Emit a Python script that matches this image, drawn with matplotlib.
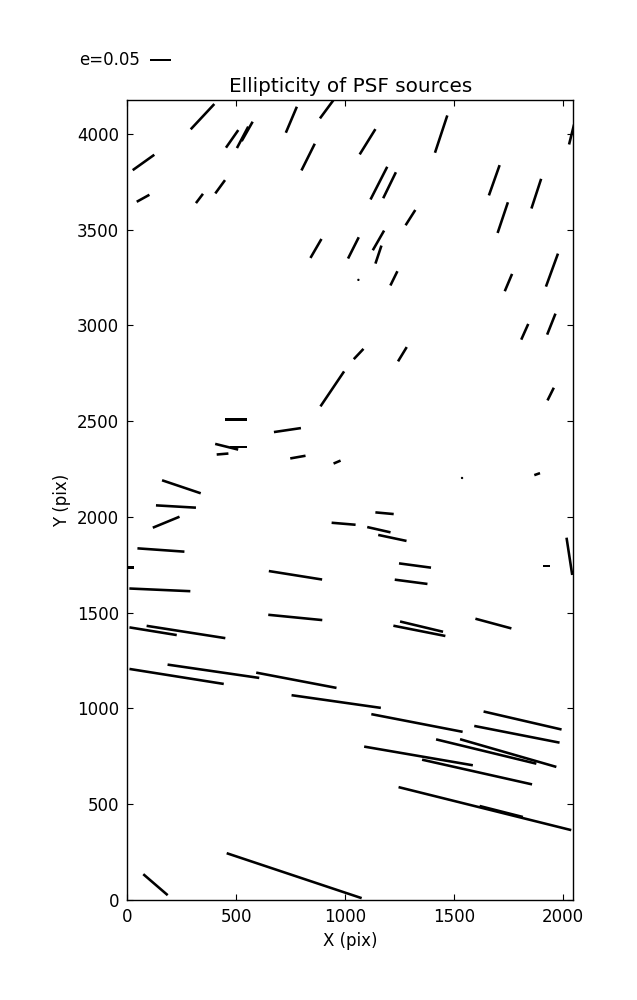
import matplotlib

matplotlib.use("Agg")
import matplotlib.pyplot as plt
import numpy as np

# star positions on the chip (pix) and ellipticity components (e_x, e_y)
x_pix = [345, 74, 481, 529, 550, 753, 915, 830, 72, 331,
         426, 866, 1103, 1441, 2040, 1155, 1204, 1685, 1878, 1300,
         1724, 1038, 1153, 1153, 1950, 941, 499, 1061, 1224, 1750,
         1825, 1947, 1062, 1263, 1944, 735, 456, 509, 437, 783,
         963, 248, 223, 178, 993, 154, 10, 772, 1537, 1882,
         1181, 1155, 1217, 1321, 2030, 1925, 1303, 149, 771, 118,
         269, 226, 395, 776, 959, 1681, 1351, 1341, 1330, 1815,
         1337, 1648, 1749, 1789, 1606, 1642, 1717, 129, 766]
y_pix = [4089, 3850, 3973, 3981, 4012, 4073, 4127, 3878, 3663, 3662,
         3723, 3401, 3958, 3998, 3996, 3742, 3731, 3757, 3687, 3562,
         3562, 3404, 3443, 3369, 3288, 2668, 2508, 3237, 3245, 3223,
         2966, 3006, 2850, 2849, 2641, 2453, 2366, 2364, 2328, 2312,
         2286, 2157, 2054, 1972, 1964, 1827, 1735, 1695, 2203, 2223,
         2019, 1933, 1890, 1746, 1794, 1743, 1661, 1619, 1475, 1403,
         1399, 1167, 1194, 1147, 1036, 1443, 1427, 1405, 924, 937,
         752, 775, 767, 865, 668, 477, 462, 80, 127]
e_x = [0.0562, 0.0514, 0.0293, 0.0269, 0.0262, 0.0262, 0.0317, 0.0317, 0.0302, 0.0167,
       0.0231, 0.0262, 0.0374, 0.0293, 0.0119, 0.0398, 0.0302, 0.0255, 0.0231, 0.0231,
       0.0245, 0.0255, 0.0269, 0.0143, 0.0286, 0.0562, 0.0507, 0.0030, 0.0167, 0.0174,
       0.0167, 0.0198, 0.0231, 0.0207, 0.0150, 0.0643, 0.0548, 0.0398, 0.0279, 0.0364,
       0.0167, 0.0921, 0.0952, 0.0636, 0.0571, 0.1119, 0.0200, 0.1269, 0.0050, 0.0136,
       0.0436, 0.0555, 0.0674, 0.0762, 0.0136, 0.0174, 0.0779, 0.1452, 0.1286, 0.1126,
       0.1874, 0.2245, 0.2183, 0.1912, 0.2126, 0.0857, 0.1024, 0.1238, 0.2174, 0.1857,
       0.2588, 0.2388, 0.2293, 0.2031, 0.2619, 0.4112, 0.1031, 0.0581, 0.3214]
e_y = [0.0602, 0.0367, 0.0419, 0.0510, 0.0462, 0.0619, 0.0429, 0.0636, 0.0167, 0.0221,
       0.0317, 0.0452, 0.0602, 0.0888, 0.0476, 0.0779, 0.0619, 0.0721, 0.0707, 0.0364,
       0.0731, 0.0507, 0.0469, 0.0429, 0.0786, 0.0833, 0.0, 0.0, 0.0340, 0.0412,
       0.0374, 0.0500, 0.0245, 0.0340, 0.0302, 0.0095, -0.0136, 0.0, 0.0024, 0.0064,
       0.0071, -0.0310, -0.0055, 0.0262, -0.0048, -0.0079, 0.0, -0.0202, -0.0020, 0.0048,
       -0.0040, -0.0126, -0.0143, -0.0102, -0.0888, 0.0, -0.0102, -0.0064, -0.0126, -0.0183,
       -0.0293, -0.0357, -0.0317, -0.0364, -0.0302, -0.0231, -0.0245, -0.0245, -0.0421, -0.0429,
       -0.0445, -0.0579, -0.0660, -0.0398, -0.0588, -0.1024, -0.0262, -0.0500, -0.1071]

x_ticks = [0, 500, 1000, 1500, 2000]
y_ticks = [0, 500, 1000, 1500, 2000, 2500, 3000, 3500, 4000]
chip_size = (2048, 4176)
key_e = 0.05

plt.rcParams.update({
    "font.family": "DejaVu Sans",
    "font.size": 12,
    "xtick.direction": "in",
    "ytick.direction": "in",
    "xtick.top": True,
    "ytick.right": True,
    "xtick.major.size": 4,
    "ytick.major.size": 4,
    "xtick.major.pad": 6,
    "ytick.major.pad": 6,
    "axes.linewidth": 1.0,
})

fig = plt.figure(figsize=(6.37, 10), dpi=100)
ax = fig.add_axes([0.2, 0.1, 0.7, 0.8])

# headless whiskers, 0.05 ellipticity -> 0.21 inch
q = ax.quiver(
    x_pix, y_pix, e_x, e_y,
    angles="uv", scale_units="inches", scale=key_e / 0.21,
    pivot="middle", headwidth=0, headlength=0, headaxislength=0,
    width=0.0058, color="black",
)
ax.quiverkey(q, 0.2355, 0.94, key_e, f"e={key_e}", coordinates="figure",
             labelpos="W", fontproperties={"size": 12})

ax.set_xlim(0, chip_size[0])
ax.set_ylim(0, chip_size[1])
ax.set_xticks(x_ticks)
ax.set_yticks(y_ticks)
ax.set_xlabel("X (pix)")
ax.set_ylabel("Y (pix)")
ax.set_title("Ellipticity of PSF sources", fontsize=14.4)

fig.savefig("out.png", dpi=100)
plt.close(fig)
